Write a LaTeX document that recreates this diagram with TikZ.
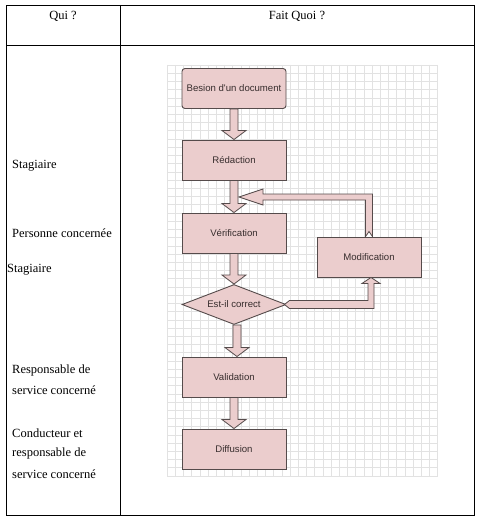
\documentclass[tikz,border=0pt]{standalone}
\usepackage{fontspec}
\setmainfont{Liberation Serif}
\newfontfamily\flowfont{Liberation Sans}
\usetikzlibrary{calc,shapes.geometric}
\definecolor{pinkf}{RGB}{235,205,205}
\definecolor{edgec}{RGB}{85,75,75}
\definecolor{gridc}{RGB}{226,226,226}
\definecolor{txtc}{RGB}{55,45,45}
\tikzset{
  tbl/.style={draw=black, line width=0.8pt},
  qui/.style={anchor=west, inner sep=0pt, font=\fontsize{12.5}{14}\selectfont},
  hdr/.style={inner sep=0pt, font=\fontsize{12.5}{14}\selectfont},
  box/.style={draw=edgec, fill=pinkf, line width=0.9pt, minimum width=104pt, minimum height=40pt, inner sep=0pt, font=\flowfont\fontsize{9.6}{11}\selectfont, text=txtc},
  dia/.style={draw=edgec, fill=pinkf, line width=0.9pt, diamond, aspect=2.6, minimum width=104pt, minimum height=40pt, inner sep=0pt, font=\flowfont\fontsize{9.6}{11}\selectfont, text=txtc},
  blk/.style={draw=edgec, fill=pinkf, line width=0.8pt, line join=miter}
}
\newcommand\vblk[2]{%
  \draw[blk] let \p1=(#1), \p2=(#2) in
    (\x1-4pt,\y1) -- (\x1-4pt,\y2+9pt) -- (\x1-12pt,\y2+9pt) -- (\x1,\y2)
    -- (\x1+12pt,\y2+9pt) -- (\x1+4pt,\y2+9pt) -- (\x1+4pt,\y1) -- cycle;}
\begin{document}
\begin{tikzpicture}[x=1pt,y=-1pt]
\useasboundingbox (0,0) rectangle (483,524);
\fill[white] (0,0) rectangle (483,524);
% table
\draw[tbl] (6,5) rectangle (474,515);
\draw[tbl] (6,45) -- (474,45);
\draw[tbl] (120,5) -- (120,515);
\node[hdr] (h1) at (63,16) {Qui ?};
\node[hdr] (h2) at (297,16) {Fait Quoi ?};
% left column
\node[qui] (q1) at (12,166) {Stagiaire};
\node[qui] (q2) at (12,233) {Personne concernée};
\node[qui] (q3) at (7,270) {Stagiaire};
\node[qui] (q4) at (12,370) {Responsable de};
\node[qui] (q5) at (12,390) {service concerné};
\node[qui] (q6) at (12,433) {Conducteur et};
\node[qui] (q7) at (12,453) {responsable de};
\node[qui] (q8) at (12,474) {service concerné};
% grid
\foreach \i in {0,...,33} {\draw[gridc, line width=0.6pt] (167+\i*8.2,65) -- (167+\i*8.2,477);}
\foreach \j in {0,...,50} {\draw[gridc, line width=0.6pt] (167,65+\j*8.22) -- (437.6,65+\j*8.22);}
% nodes
\node[box, rounded corners=3pt] (besoin) at (234,88.5) {Besion d'un document};
\node[box] (redac) at (234,160) {Rédaction};
\node[box] (verif) at (234,233) {Vérification};
\node[dia] (test) at (234,304.5) {Est-il correct};
\node[box] (modif) at (369,257) {Modification};
\node[box] (valid) at (234,377) {Validation};
\node[box] (diff) at (234,449) {Diffusion};
% arrows
\vblk{besoin.south}{redac.north}
\vblk{redac.south}{verif.north}
\vblk{verif.south}{test.north}
\vblk{$(test.south)+(3,0)$}{$(valid.north)+(3,0)$}
\vblk{valid.south}{diff.north}
% feedback Modification -> between Rédaction and Vérification
\coordinate (fbtip) at (239,197);
\draw[blk] let \p1=(modif.north), \p2=(fbtip) in
  (\x1-3.5pt,\y1) -- (\x1-3.5pt,\y2-3pt) -- (\x2+24pt,\y2-3pt) -- (\x2+24pt,\y2-8pt)
  -- (\x2,\y2) -- (\x2+24pt,\y2+8pt) -- (\x2+24pt,\y2+3pt) -- (\x1+3.5pt,\y2+3pt)
  -- (\x1+3.5pt,\y1) -- (\x1,\y1+5pt) -- cycle;
% test -> Modification
\draw[blk] let \p1=(test.east), \p2=(modif.south) in
  (\x1-2pt,\y1) -- (\x1+3pt,\y1+4pt) -- (\x2-1pt,\y1+4pt) -- (\x2-1pt,\y2-6pt)
  -- (\x2-7pt,\y2-6pt) -- (\x2+2pt,\y2) -- (\x2+11pt,\y2-6pt) -- (\x2+5pt,\y2-6pt)
  -- (\x2+5pt,\y1-4pt) -- (\x1+3pt,\y1-4pt) -- cycle;
\end{tikzpicture}
\end{document}
